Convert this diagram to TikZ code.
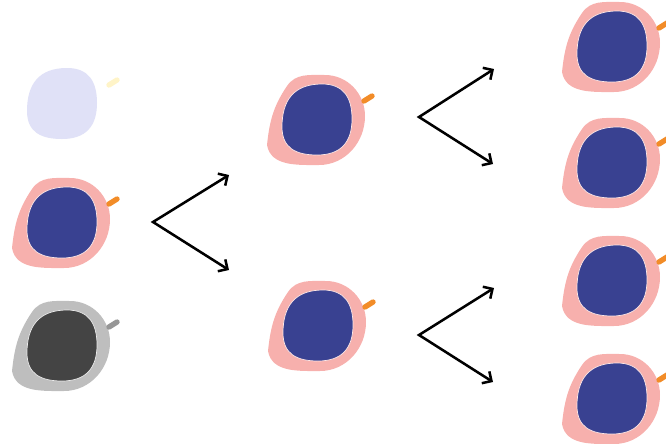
\documentclass[tikz,border=0pt]{standalone}
\usetikzlibrary{arrows.meta}

\definecolor{wallpink}{RGB}{247,176,173}
\definecolor{corenavy}{RGB}{57,65,145}
\definecolor{tailorange}{RGB}{242,140,40}
\definecolor{wallgray}{RGB}{190,190,190}
\definecolor{coregray}{RGB}{68,68,68}
\definecolor{tailgray}{RGB}{150,150,150}
\definecolor{ghostcore}{RGB}{224,225,247}
\definecolor{ghosttail}{RGB}{255,244,200}

\tikzset{
  % #1 wall, #2 nucleus, #3 flagellum
  pics/cell/.style n args={3}{code={
    \fill[#1] (8,-44) to[out=0,in=90] (48,-3) to[out=-90,in=0] (2,46)
      to[out=180,in=-80] (-50,26) to[out=84,in=236] (-30,-33) to[out=56,in=180] cycle;
    \fill[#2] (5,-35) to[out=0,in=90,looseness=1.2] (35,0) to[out=-90,in=0,looseness=1.2] (0,36)
      to[out=180,in=-90,looseness=1.2] (-35,8) to[out=90,in=180,looseness=1.2] cycle;
    \draw[#3, line width=3.8pt, line cap=round] (47,-18) -- (55,-23);
  }},
  rim/.style={draw=white!70!#1, line width=0.5pt},
  split/.style={line width=1.8pt, {Straight Barb[length=5pt,width=10pt]}-{Straight Barb[length=5pt,width=10pt]}},
}

\begin{document}
\begin{tikzpicture}[x=0.025cm, y=-0.025cm]
  \clip (0,0) rectangle (666,443);

  % parent cells
  \pic (ghost) at (62,103) {cell={white}{ghostcore}{ghosttail}};
  \pic (mother) at (62,222) {cell={wallpink}{corenavy, rim=wallpink}{tailorange}};
  \pic (dead) at (62,345) {cell={wallgray}{coregray, rim=wallgray}{tailgray}};

  % first division
  \pic (d1) at (317,119) {cell={wallpink}{corenavy, rim=wallpink}{tailorange}};
  \pic (d2) at (318,325) {cell={wallpink}{corenavy, rim=wallpink}{tailorange}};

  % second division
  \foreach \y [count=\i] in {46,162,280,398}
    \pic (g\i) at (612,\y) {cell={wallpink}{corenavy, rim=wallpink}{tailorange}};

  % split arrows
  \coordinate (s0) at (153,222);
  \coordinate (s0a) at (229,175);
  \coordinate (s0b) at (229,270);
  \coordinate (s1) at (419,117);
  \coordinate (s1a) at (494,69);
  \coordinate (s1b) at (493,164);
  \coordinate (s2) at (419,335);
  \coordinate (s2a) at (494,288);
  \coordinate (s2b) at (493,382);
  \draw[split] (s0a) -- (s0) -- (s0b);
  \draw[split] (s1a) -- (s1) -- (s1b);
  \draw[split] (s2a) -- (s2) -- (s2b);
\end{tikzpicture}
\end{document}
